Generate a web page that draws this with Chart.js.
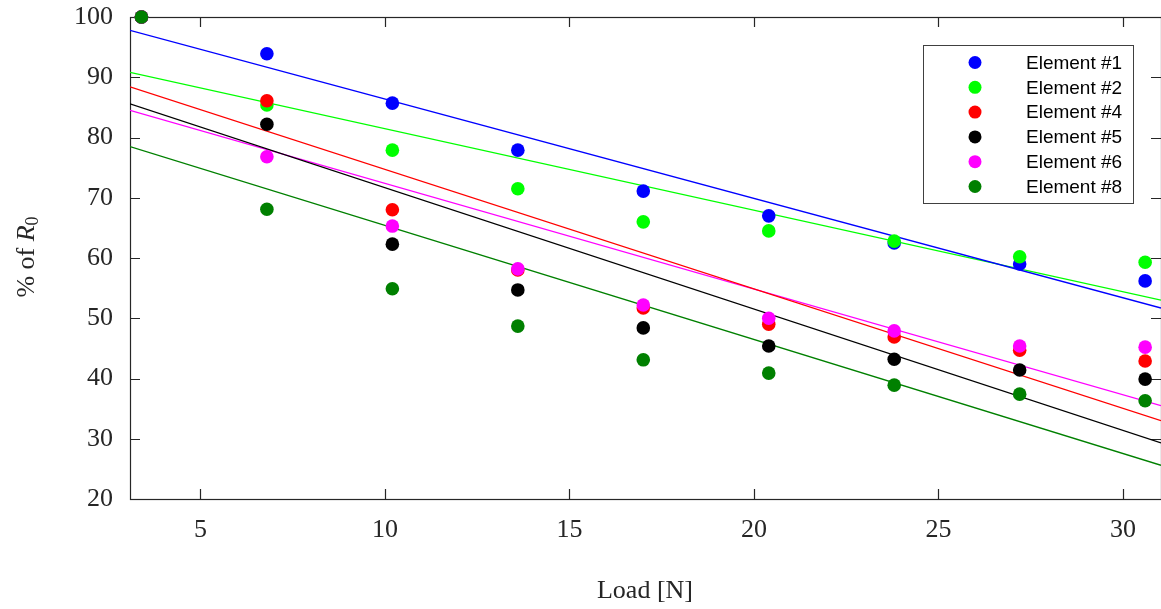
<!DOCTYPE html>
<html>
<head>
<meta charset="utf-8">
<script src="https://cdn.jsdelivr.net/npm/chart.js@4/dist/chart.umd.min.js"></script>
<style>
  body { margin: 0; background: #fff; }
  canvas { display: block; }
</style>
</head>
<body>
<canvas id="chart" width="1161" height="609"></canvas>
<script>
// load values (N) and % of R0 for each element
const loads = [3.4, 6.8, 10.2, 13.6, 17.0, 20.4, 23.8, 27.2, 30.6];
const element1 = [100, 93.9, 85.7, 77.9, 71.1, 67.0, 62.5, 59.0, 56.2];
const element2 = [100, 85.4, 77.9, 71.5, 66.0, 64.5, 62.8, 60.2, 59.3];
const element4 = [100, 86.1, 68.0, 58.0, 51.7, 49.0, 46.9, 44.7, 42.9];
const element5 = [100, 82.2, 62.3, 54.7, 48.4, 45.4, 43.2, 41.4, 39.9];
const element6 = [100, 76.8, 65.3, 58.2, 52.2, 50.0, 47.9, 45.4, 45.2];
const element8 = [100, 68.1, 54.9, 48.7, 43.1, 40.9, 38.9, 37.4, 36.3];

const names = ['Element #1', 'Element #2', 'Element #4', 'Element #5', 'Element #6', 'Element #8'];
const colors = ['#0000ff', '#00ff00', '#ff0000', '#000000', '#ff00ff', '#008000'];

// linear fit lines: value at left and right edge of the axes
const fitStart = [97.8, 90.8, 88.4, 85.6, 84.5, 78.5];
const fitEnd = [51.7, 53.0, 33.0, 29.3, 35.5, 25.6];

const xTicks = [5, 10, 15, 20, 25, 30];
const yTicks = [20, 30, 40, 50, 60, 70, 80, 90, 100];
const xMin = 3.09, xMax = 31.03;

const serif = "'Liberation Serif', 'DejaVu Serif', serif";
const axisColor = '#262626';

function pointsFrom(values) {
  let pts = [];
  for (let i = 0; i < loads.length; i++) {
    pts.push({ x: loads[i], y: values[i] });
  }
  return pts;
}

function buildDatasets() {
  let all = [element1, element2, element4, element5, element6, element8];
  let sets = [];
  for (let i = 0; i < all.length; i++) {
    sets.push({
      label: names[i],
      data: pointsFrom(all[i]),
      backgroundColor: colors[i],
      borderWidth: 0,
      pointRadius: 6.8,
      order: 6 - i,
      clip: false
    });
  }
  for (let i = 0; i < all.length; i++) {
    sets.push({
      label: names[i] + ' fit',
      data: [{ x: xMin, y: fitStart[i] }, { x: xMax, y: fitEnd[i] }],
      borderColor: colors[i],
      borderWidth: 1.3,
      showLine: true,
      pointRadius: 0,
      order: 20
    });
  }
  return sets;
}

function noPadding(s) {
  s.paddingLeft = 0; s.paddingRight = 0;
  s.paddingTop = 0; s.paddingBottom = 0;
}

// box around the axes with inward tick marks
const frame = {
  id: 'frame',
  beforeDatasetsDraw(chart) {
    const ctx = chart.ctx;
    const a = chart.chartArea;
    const x = chart.scales.x, y = chart.scales.y;
    const tl = 10;
    ctx.save();
    ctx.strokeStyle = axisColor;
    ctx.lineWidth = 1.2;
    ctx.beginPath();
    for (const v of xTicks) {
      let px = Math.round(x.getPixelForValue(v)) + 0.5;
      ctx.moveTo(px, a.bottom); ctx.lineTo(px, a.bottom - tl);
      ctx.moveTo(px, a.top); ctx.lineTo(px, a.top + tl);
    }
    for (const v of yTicks) {
      let py = Math.round(y.getPixelForValue(v)) + 0.5;
      ctx.moveTo(a.left, py); ctx.lineTo(a.left + tl, py);
      ctx.moveTo(a.right, py); ctx.lineTo(a.right - tl, py);
    }
    ctx.stroke();
    ctx.strokeRect(a.left + 0.5, a.top + 0.5, a.right - a.left, a.bottom - a.top);
    ctx.restore();
  }
};

// legend box in the upper right and the axis titles
const extras = {
  id: 'extras',
  afterDatasetsDraw(chart) {
    const ctx = chart.ctx;
    ctx.save();
    // legend
    ctx.fillStyle = '#fff';
    ctx.fillRect(923, 45, 210, 158);
    ctx.strokeStyle = '#404040';
    ctx.lineWidth = 1;
    ctx.strokeRect(923.5, 45.5, 210, 158);
    ctx.font = "19px 'Liberation Sans', Arial, sans-serif";
    ctx.textBaseline = 'middle';
    ctx.textAlign = 'left';
    for (let i = 0; i < names.length; i++) {
      let cy = 62.5 + i * 24.8;
      ctx.fillStyle = colors[i];
      ctx.beginPath();
      ctx.arc(975, cy, 6.5, 0, Math.PI * 2);
      ctx.fill();
      ctx.fillStyle = '#000';
      ctx.fillText(names[i], 1026, cy + 1);
    }
    // x title
    ctx.fillStyle = axisColor;
    ctx.font = '26px ' + serif;
    ctx.textAlign = 'center';
    ctx.textBaseline = 'middle';
    ctx.fillText('Load [N]', 645, 591);
    // y title: % of R with subscript 0
    ctx.translate(25, 257);
    ctx.rotate(-Math.PI / 2);
    let partA = '% of ';
    ctx.font = '26px ' + serif;
    let wA = ctx.measureText(partA).width;
    ctx.font = 'italic 26px ' + serif;
    let wR = ctx.measureText('R').width;
    ctx.font = '18px ' + serif;
    let w0 = ctx.measureText('0').width;
    let sx = -(wA + wR + w0) / 2;
    ctx.textAlign = 'left';
    ctx.textBaseline = 'alphabetic';
    ctx.font = '26px ' + serif;
    ctx.fillText(partA, sx, 9);
    ctx.font = 'italic 26px ' + serif;
    ctx.fillText('R', sx + wA, 9);
    ctx.font = '18px ' + serif;
    ctx.fillText('0', sx + wA + wR, 13);
    ctx.restore();
  }
};

const myChart = new Chart(document.getElementById('chart'), {
  type: 'scatter',
  data: { datasets: buildDatasets() },
  options: {
    responsive: false,
    animation: false,
    layout: { autoPadding: false, padding: { top: 17, right: 0, left: 0, bottom: 0 } },
    plugins: { legend: { display: false }, tooltip: { enabled: false } },
    scales: {
      x: {
        type: 'linear',
        min: xMin,
        max: xMax,
        afterBuildTicks: function (s) { s.ticks = xTicks.map(v => ({ value: v })); },
        afterFit: function (s) { s.height = 110; noPadding(s); },
        grid: { display: false, drawTicks: false },
        border: { display: false },
        ticks: { color: axisColor, padding: 16, maxRotation: 0, font: { family: serif, size: 26 } }
      },
      y: {
        type: 'linear',
        min: 20,
        max: 100,
        afterBuildTicks: function (s) { s.ticks = yTicks.map(v => ({ value: v })); },
        afterFit: function (s) { s.width = 130; noPadding(s); },
        grid: { display: false, drawTicks: false },
        border: { display: false },
        ticks: { color: axisColor, padding: 17, font: { family: serif, size: 26 } }
      }
    }
  },
  plugins: [frame, extras]
});
</script>
</body>
</html>
